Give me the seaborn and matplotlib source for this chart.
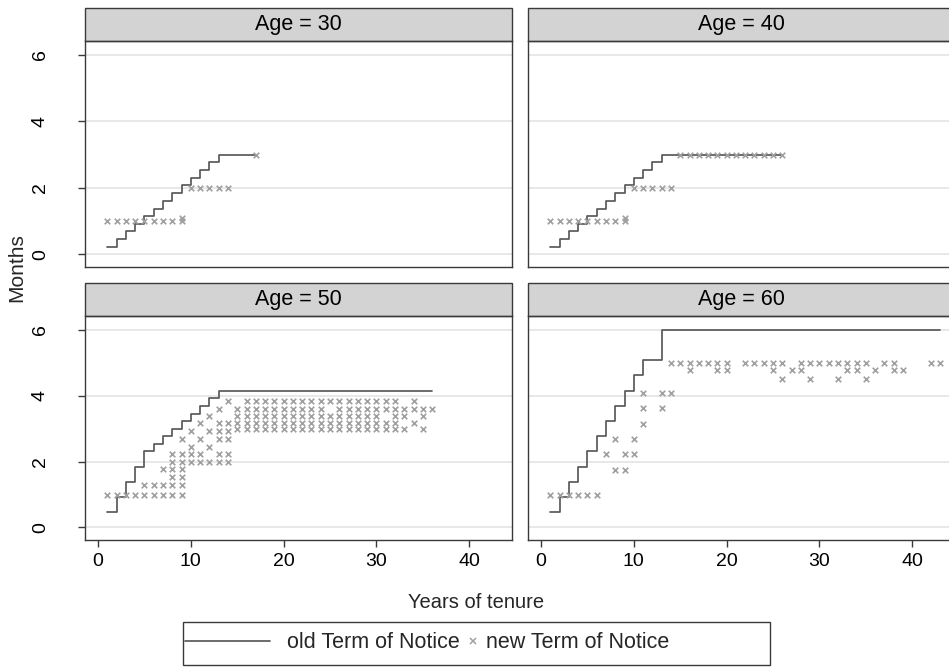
import seaborn as sns
import matplotlib.pyplot as plt
from matplotlib.patches import Rectangle
from matplotlib.lines import Line2D
import pandas as pd

ages = [30, 40, 50, 60]

# old Term of Notice, step points (years of tenure, months)
old_years_30 = [1, 2, 3, 4, 5, 6, 7, 8, 9, 10, 11, 12, 13, 17]
old_months_30 = [0.23, 0.46, 0.69, 0.92, 1.15, 1.38, 1.62, 1.85, 2.08, 2.31, 2.54, 2.77, 3.0, 3.0]
old_years_40 = [1, 2, 3, 4, 5, 6, 7, 8, 9, 10, 11, 12, 13, 26]
old_months_40 = [0.23, 0.46, 0.69, 0.92, 1.15, 1.38, 1.62, 1.85, 2.08, 2.31, 2.54, 2.77, 3.0, 3.0]
old_years_50 = [1, 2, 3, 4, 5, 6, 7, 8, 9, 10, 11, 12, 13, 36]
old_months_50 = [0.46, 0.92, 1.38, 1.85, 2.31, 2.54, 2.77, 3.0, 3.23, 3.46, 3.69, 3.92, 4.15, 4.15]
old_years_60 = [1, 2, 3, 4, 5, 6, 7, 8, 9, 10, 11, 13, 43]
old_months_60 = [0.46, 0.92, 1.38, 1.85, 2.31, 2.77, 3.23, 3.69, 4.15, 4.62, 5.08, 6.0, 6.0]

# new Term of Notice, year of tenure -> months
new_30 = {1: [1.0], 2: [1.0], 3: [1.0], 4: [1.0], 5: [1.0], 6: [1.0], 7: [1.0], 8: [1.0],
          9: [1.0, 1.08], 10: [2.0], 11: [2.0], 12: [2.0], 13: [2.0], 14: [2.0], 17: [3.0]}
new_40 = {1: [1.0], 2: [1.0], 3: [1.0], 4: [1.0], 5: [1.0], 6: [1.0], 7: [1.0], 8: [1.0],
          9: [1.0, 1.08], 10: [2.0], 11: [2.0], 12: [2.0], 13: [2.0], 14: [2.0],
          15: [3.0], 16: [3.0], 17: [3.0], 18: [3.0], 19: [3.0], 20: [3.0], 21: [3.0],
          22: [3.0], 23: [3.0], 24: [3.0], 25: [3.0], 26: [3.0]}
new_50 = {1: [1.0], 2: [1.0], 3: [1.0], 4: [1.0],
          5: [1.0, 1.3], 6: [1.0, 1.3], 7: [1.0, 1.3, 1.77],
          8: [1.0, 1.3, 1.53, 1.77, 2.0, 2.23],
          9: [1.0, 1.3, 1.53, 1.77, 2.0, 2.23, 2.68],
          10: [2.0, 2.23, 2.45, 2.92], 11: [2.0, 2.23, 2.68, 3.16],
          12: [2.0, 2.45, 2.92, 3.38], 13: [2.0, 2.23, 2.68, 2.92, 3.16, 3.61],
          14: [2.0, 2.23, 2.68, 2.92, 3.16, 3.84], 15: [3.0, 3.16, 3.38, 3.61],
          16: [3.0, 3.16, 3.38, 3.61, 3.84], 17: [3.0, 3.16, 3.38, 3.61, 3.84],
          18: [3.0, 3.16, 3.38, 3.61, 3.84], 19: [3.0, 3.16, 3.38, 3.61, 3.84],
          20: [3.0, 3.16, 3.38, 3.61, 3.84], 21: [3.0, 3.16, 3.38, 3.61, 3.84],
          22: [3.0, 3.16, 3.38, 3.61, 3.84], 23: [3.0, 3.16, 3.38, 3.61, 3.84],
          24: [3.0, 3.16, 3.38, 3.61, 3.84], 25: [3.0, 3.16, 3.38, 3.84],
          26: [3.0, 3.16, 3.38, 3.61, 3.84], 27: [3.0, 3.16, 3.38, 3.61, 3.84],
          28: [3.0, 3.16, 3.38, 3.61, 3.84], 29: [3.0, 3.16, 3.38, 3.61, 3.84],
          30: [3.0, 3.16, 3.38, 3.61, 3.84], 31: [3.0, 3.16, 3.61, 3.84],
          32: [3.0, 3.16, 3.38, 3.61, 3.84], 33: [3.0, 3.38, 3.61],
          34: [3.16, 3.61, 3.84], 35: [3.0, 3.38, 3.61], 36: [3.61]}
new_60 = {1: [1.0], 2: [1.0], 3: [1.0], 4: [1.0], 5: [1.0], 6: [1.0],
          7: [2.22], 8: [1.75, 2.69], 9: [1.75, 2.22], 10: [2.22, 2.69],
          11: [3.14, 3.62, 4.09], 13: [3.62, 4.09], 14: [4.09, 5.0],
          15: [5.0], 16: [4.77, 5.0], 17: [5.0], 18: [5.0], 19: [4.77, 5.0], 20: [4.77, 5.0],
          22: [5.0], 23: [5.0], 24: [5.0], 25: [4.77, 5.0], 26: [4.52, 5.0], 27: [4.77],
          28: [4.77, 5.0], 29: [4.52, 5.0], 30: [5.0], 31: [5.0], 32: [4.52, 5.0],
          33: [4.77, 5.0], 34: [4.77, 5.0], 35: [4.52, 5.0], 36: [4.77], 37: [5.0],
          38: [4.77, 5.0], 39: [4.77], 42: [5.0], 43: [5.0]}

old_rows = []
for age, yrs, mths in [(30, old_years_30, old_months_30), (40, old_years_40, old_months_40),
                       (50, old_years_50, old_months_50), (60, old_years_60, old_months_60)]:
    for x, y in zip(yrs, mths):
        old_rows.append((age, x, y))
old = pd.DataFrame(old_rows, columns=['age', 'tenure', 'months'])

new_rows = []
for age, d in [(30, new_30), (40, new_40), (50, new_50), (60, new_60)]:
    for x, ys in d.items():
        for y in ys:
            new_rows.append((age, x, y))
new = pd.DataFrame(new_rows, columns=['age', 'tenure', 'months'])

sns.set_theme(style='white')
plt.rcParams['font.family'] = ['Liberation Sans', 'DejaVu Sans']

W, H = 949, 671
fig = plt.figure(figsize=(W / 100, H / 100), dpi=100)


def box(x0, y0, x1, y1):
    return [x0 / W, 1 - y1 / H, (x1 - x0) / W, (y1 - y0) / H]


panels = {30: box(85, 41, 512, 267), 40: box(528, 41, 955, 267),
          50: box(85, 316, 512, 540), 60: box(528, 316, 955, 540)}
line_col = '#5a5a5a'
mark_col = '#a0a0a0'
edge_col = '#3a3a3a'

for age in ages:
    ax = fig.add_axes(panels[age])
    ax.set_facecolor('white')
    sns.lineplot(data=old[old.age == age], x='tenure', y='months', drawstyle='steps-post',
                 color=line_col, linewidth=1.25, ax=ax, legend=False)
    sns.scatterplot(data=new[new.age == age], x='tenure', y='months', marker='x',
                    color=mark_col, s=16, linewidth=1.2, ax=ax, legend=False, zorder=3)
    ax.set_xlim(-1.4, 44.6)
    ax.set_ylim(-0.38, 6.42)
    ax.set_xticks([0, 10, 20, 30, 40])
    ax.set_yticks([0, 2, 4, 6])
    ax.set_xlabel('')
    ax.set_ylabel('')
    ax.grid(axis='y', color='#e2e2e2', linewidth=1.1)
    ax.set_axisbelow(True)
    for sp in ax.spines.values():
        sp.set_color(edge_col)
        sp.set_linewidth(1.0)
    ax.tick_params(axis='both', length=5, width=1.0, color=edge_col, labelsize=14,
                   labelcolor='black', direction='out', bottom=True, left=True, pad=4)
    ax.tick_params(axis='y', pad=21)
    plt.setp(ax.get_yticklabels(), rotation=90, va='center')
    if age in (30, 40):
        ax.tick_params(axis='x', bottom=False, labelbottom=False)
    if age in (40, 60):
        ax.tick_params(axis='y', left=False, labelleft=False)
    hs = 33 / 226
    ax.add_patch(Rectangle((0, 1), 1, hs, transform=ax.transAxes, clip_on=False,
                           facecolor='#d3d3d3', edgecolor=edge_col, linewidth=1.0))
    ax.text(0.5, 1 + hs / 2, f'Age = {age}', transform=ax.transAxes, ha='center',
            va='center', fontsize=15.5, color='black')

fig.text(476 / W, 1 - 602 / H, 'Years of tenure', ha='center', va='center', fontsize=14.5)
fig.text(17 / W, 1 - 268 / H, 'Months', ha='center', va='center', rotation=90, fontsize=15)

# legend
fig.add_artist(Rectangle((183 / W, 1 - 665 / H), (770 - 183) / W, 43 / H,
                         transform=fig.transFigure, facecolor='white',
                         edgecolor=edge_col, linewidth=1.0))
h_old = Line2D([], [], color=line_col, linewidth=1.25)
h_new = Line2D([], [], color=mark_col, marker='x', linestyle='none', markersize=4.5,
               markeredgewidth=1.1)
fs = 15.5
fs_px = fs * 100 / 72
fig.legend([h_old], ['old Term of Notice'], loc='center left',
           bbox_to_anchor=(185 / W, 1 - 643 / H), frameon=False, fontsize=fs,
           borderpad=0, borderaxespad=0, handlelength=85 / fs_px,
           handletextpad=17 / fs_px)
fig.legend([h_new], ['new Term of Notice'], loc='center left',
           bbox_to_anchor=(466 / W, 1 - 643 / H), frameon=False, fontsize=fs,
           borderpad=0, borderaxespad=0, handlelength=13 / fs_px,
           handletextpad=7.5 / fs_px, numpoints=1)

fig.savefig('out.png', dpi=100)
